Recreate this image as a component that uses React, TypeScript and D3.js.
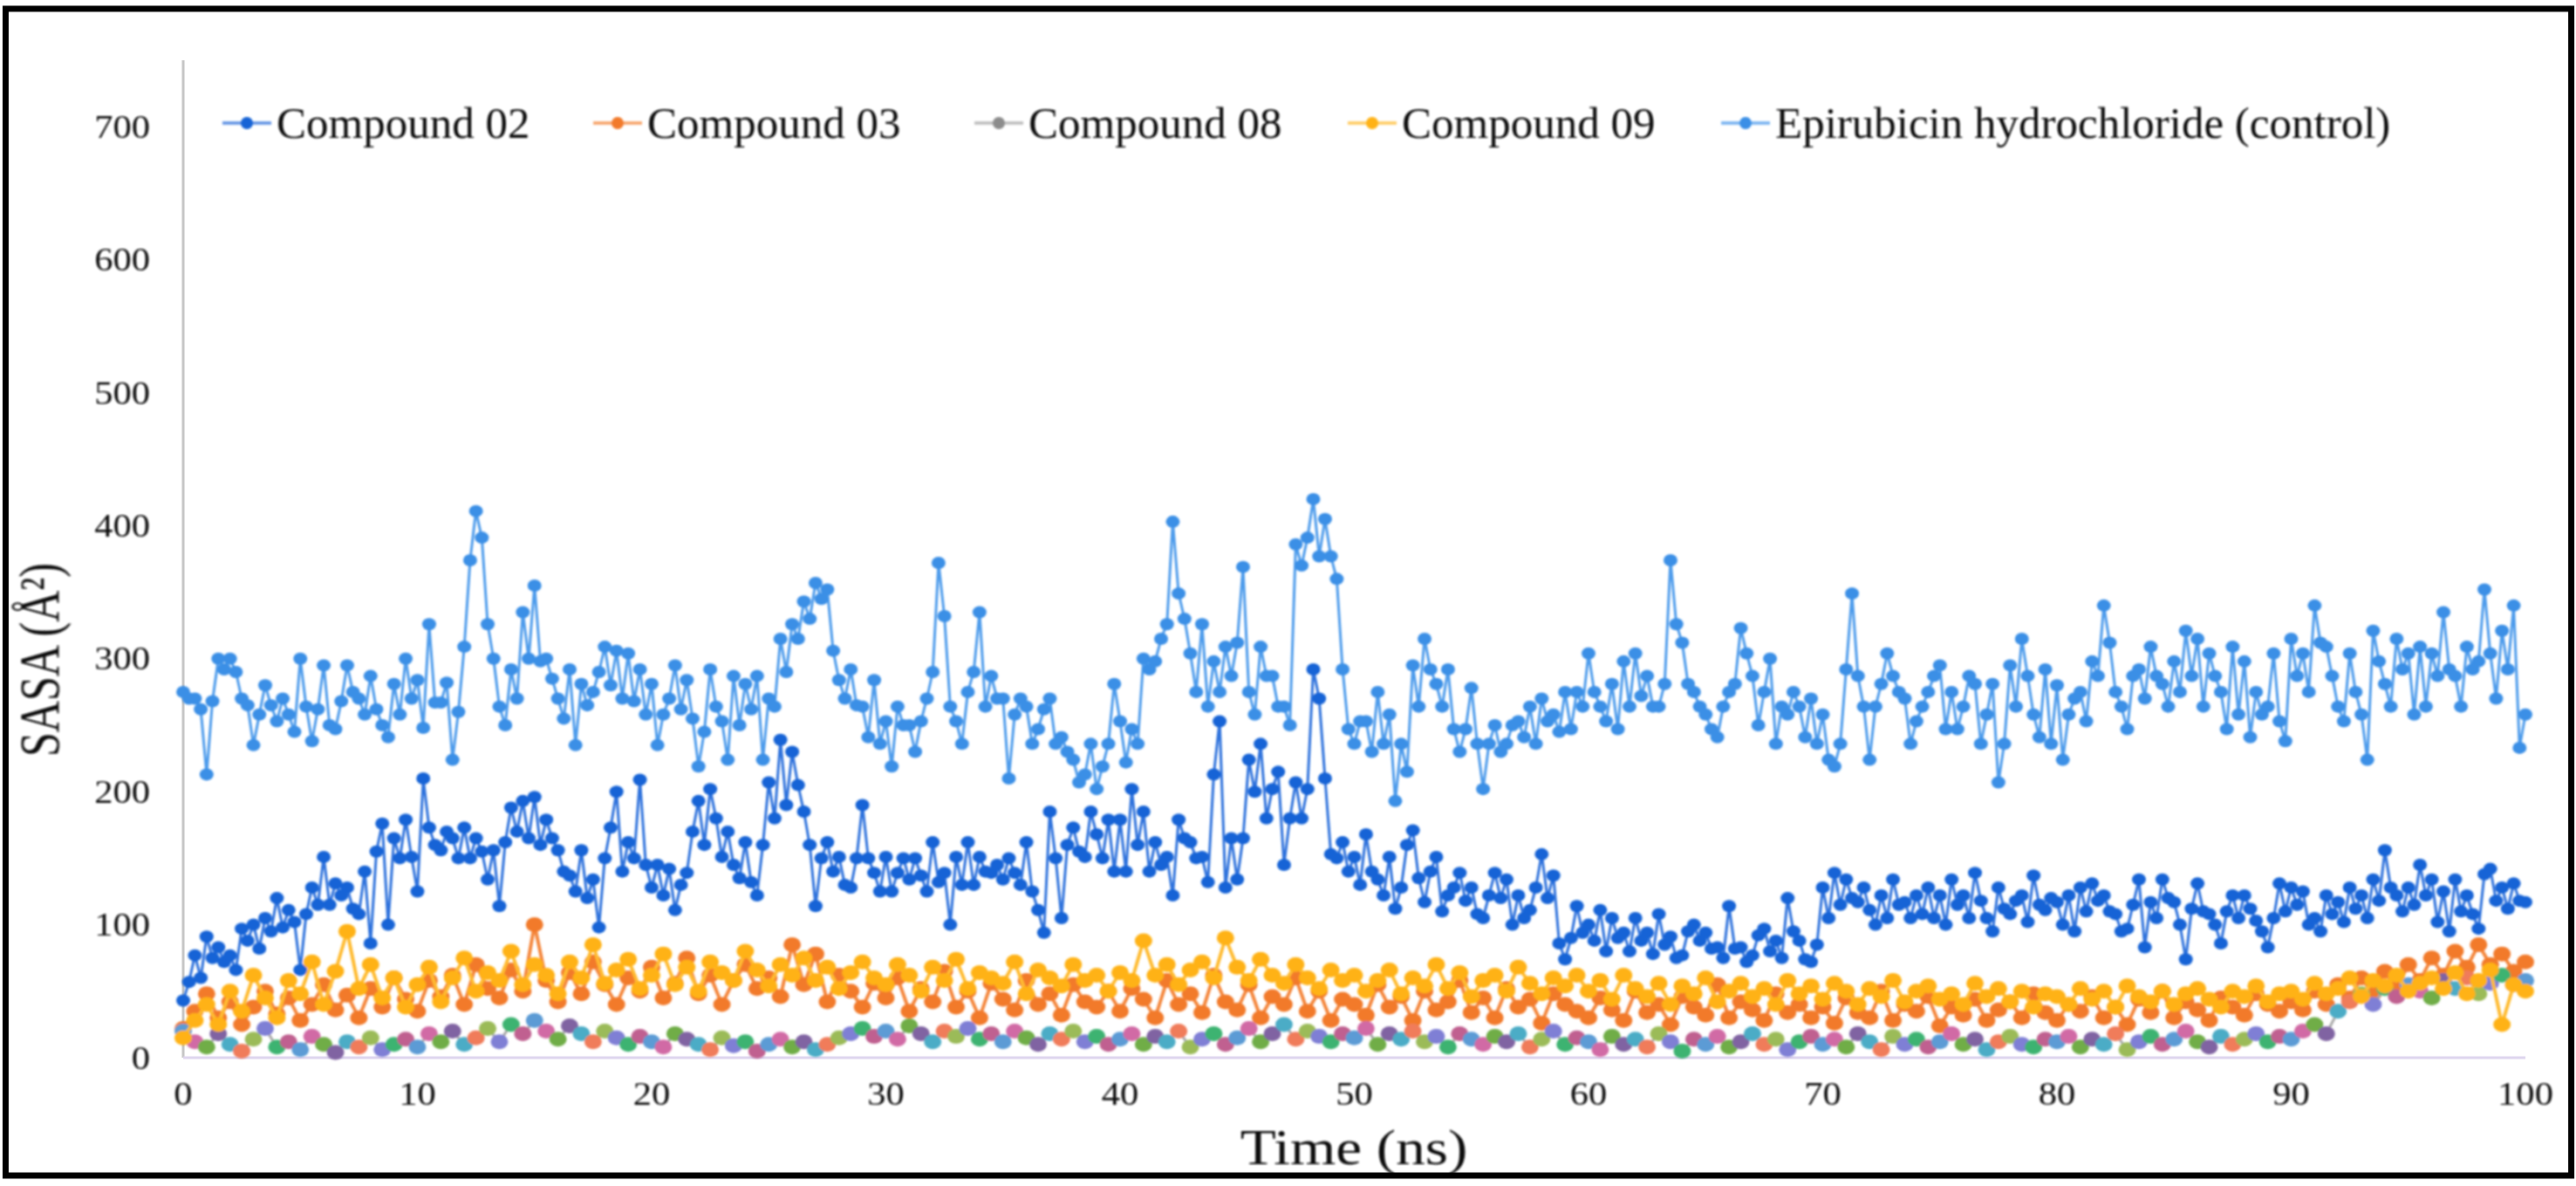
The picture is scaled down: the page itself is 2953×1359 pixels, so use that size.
import React, { useEffect } from 'react';
import * as d3 from 'd3';

// SASA (Å²), 0 → 100 ns, one value every 0.25 ns
const epirubicin = [
  275, 270, 270, 262, 213, 268, 300, 292, 300, 290, 270, 265, 235, 258, 280, 265, 253, 270, 258, 245, 300, 264, 238, 262, 295, 250, 247, 268, 295, 275, 270, 258, 287, 262, 250, 241, 281, 258, 300, 270,
  284, 248, 326, 267, 267, 282, 224, 260, 309, 374, 411, 391, 326, 300, 264, 250, 292, 270, 335, 300, 355, 298, 300, 285, 270, 255, 292, 235, 281, 265, 275, 290, 309, 280, 306, 270, 304, 268, 292, 258,
  281, 235, 258, 270, 295, 262, 284, 255, 219, 245, 292, 264, 253, 224, 287, 250, 281, 262, 287, 224, 270, 264, 315, 290, 326, 315, 343, 330, 357, 345, 352, 306, 284, 270, 292, 265, 264, 241, 284, 236,
  253, 219, 264, 250, 250, 230, 253, 270, 290, 372, 332, 264, 253, 236, 275, 290, 335, 264, 287, 270, 270, 210, 258, 270, 264, 236, 247, 262, 270, 236, 241, 230, 224, 207, 213, 236, 202, 219, 236, 281,
  253, 222, 247, 236, 300, 292, 298, 315, 326, 403, 349, 330, 304, 275, 326, 264, 298, 275, 309, 287, 312, 369, 275, 258, 309, 287, 287, 264, 264, 250, 386, 370, 391, 420, 377, 405, 377, 360, 292, 247,
  236, 253, 253, 230, 275, 236, 258, 193, 236, 215, 295, 264, 315, 292, 281, 264, 292, 247, 230, 247, 278, 236, 202, 236, 250, 230, 236, 250, 253, 241, 264, 236, 270, 253, 258, 245, 275, 247, 275, 264,
  304, 275, 264, 253, 281, 247, 298, 264, 304, 272, 287, 264, 264, 281, 374, 326, 312, 281, 275, 264, 258, 247, 241, 264, 275, 281, 323, 304, 287, 250, 275, 300, 236, 264, 258, 275, 264, 241, 270, 236,
  258, 224, 219, 236, 292, 349, 287, 264, 224, 264, 281, 304, 287, 275, 270, 236, 253, 264, 275, 287, 295, 247, 275, 247, 264, 287, 281, 236, 258, 281, 207, 236, 295, 264, 315, 287, 258, 241, 292, 236,
  280, 224, 258, 270, 275, 253, 298, 287, 340, 312, 275, 264, 247, 287, 292, 270, 309, 287, 281, 264, 298, 275, 321, 287, 315, 264, 304, 287, 275, 247, 309, 258, 298, 241, 275, 258, 264, 304, 253, 238,
  315, 287, 304, 275, 340, 312, 309, 287, 264, 253, 304, 275, 258, 224, 321, 298, 281, 264, 315, 292, 304, 258, 309, 264, 304, 287, 335, 292, 287, 264, 309, 292, 298, 352, 304, 270, 321, 292, 340, 233,
  258,
];

const compound02 = [
  43, 57, 77, 60, 91, 75, 83, 72, 77, 66, 97, 88, 100, 82, 105, 95, 120, 98, 111, 102, 66, 108, 128, 115, 151, 115, 131, 122, 128, 112, 108, 140, 86, 155, 176, 100, 165, 150, 179, 151,
  125, 210, 173, 160, 156, 170, 165, 150, 173, 150, 165, 155, 134, 156, 114, 162, 188, 170, 193, 165, 196, 160, 179, 165, 156, 140, 137, 125, 156, 120, 134, 98, 150, 173, 200, 140, 162, 150, 209, 145,
  128, 145, 122, 142, 111, 130, 139, 170, 193, 160, 202, 180, 151, 170, 145, 135, 162, 132, 122, 160, 207, 180, 239, 190, 230, 205, 185, 160, 114, 150, 162, 140, 151, 130, 128, 150, 190, 150, 139, 125,
  151, 125, 139, 150, 134, 150, 137, 125, 162, 132, 139, 100, 151, 130, 162, 130, 151, 140, 139, 145, 134, 150, 139, 130, 162, 125, 111, 94, 185, 150, 105, 160, 173, 155, 151, 185, 168, 150, 179, 140,
  179, 140, 202, 160, 185, 140, 162, 145, 151, 122, 179, 165, 162, 150, 151, 132, 213, 253, 128, 165, 134, 165, 224, 200, 236, 180, 202, 215, 145, 180, 207, 180, 202, 292, 270, 210, 153, 150, 162, 140,
  151, 130, 168, 140, 134, 122, 151, 112, 128, 160, 171, 135, 117, 140, 151, 110, 122, 128, 139, 118, 128, 108, 105, 122, 139, 120, 134, 100, 122, 105, 111, 128, 153, 120, 137, 86, 74, 90, 114, 94,
  100, 88, 111, 80, 105, 90, 94, 80, 105, 88, 94, 78, 108, 85, 91, 75, 77, 95, 100, 88, 94, 82, 83, 75, 114, 82, 83, 72, 77, 92, 97, 80, 88, 75, 120, 95, 88, 74, 72, 85,
  128, 105, 139, 115, 134, 120, 117, 128, 111, 100, 122, 105, 134, 115, 117, 105, 122, 108, 128, 105, 122, 100, 134, 115, 122, 105, 139, 118, 105, 95, 128, 112, 108, 118, 122, 102, 137, 115, 111, 120,
  117, 100, 122, 95, 128, 110, 131, 118, 122, 110, 108, 95, 97, 115, 134, 83, 117, 105, 134, 120, 117, 100, 74, 112, 131, 110, 108, 100, 86, 110, 122, 105, 122, 112, 103, 95, 83, 105, 131, 110,
  128, 115, 125, 100, 105, 95, 122, 108, 117, 102, 128, 112, 122, 105, 134, 118, 156, 128, 122, 110, 128, 115, 145, 122, 134, 102, 125, 95, 134, 110, 122, 108, 97, 138, 142, 118, 128, 112, 131, 118,
  117,
];

// one value every 0.5 ns
const compound03 = [
  22, 35, 48, 30, 42, 25, 38, 50, 33, 45, 28, 40, 55, 36, 47, 30, 52, 38, 60, 44,
  35, 58, 46, 62, 40, 70, 52, 45, 66, 50, 100, 58, 42, 64, 48, 72, 55, 40, 60, 50,
  68, 45, 56, 75, 48, 62, 40, 58, 70, 52, 60, 46, 85, 55, 78, 42, 62, 50, 38, 56,
  45, 60, 35, 52, 42, 65, 38, 50, 30, 56, 44, 36, 58, 40, 48, 32, 55, 42, 38, 50,
  35, 52, 44, 30, 58, 40, 48, 34, 62, 42, 36, 55, 30, 46, 40, 60, 35, 50, 28, 44,
  40, 32, 55, 38, 46, 28, 50, 36, 42, 58, 34, 45, 30, 52, 38, 44, 26, 48, 40, 35,
  30, 45, 36, 28, 50, 34, 40, 25, 46, 38, 32, 55, 30, 42, 36, 28, 48, 34, 40, 30,
  38, 26, 45, 34, 30, 50, 28, 40, 35, 46, 24, 38, 32, 44, 28, 36, 42, 30, 48, 34,
  28, 40, 35, 46, 30, 38, 25, 44, 34, 50, 30, 42, 36, 28, 45, 38, 32, 48, 40, 35,
  42, 36, 50, 40, 55, 45, 60, 48, 65, 52, 70, 58, 75, 62, 80, 68, 85, 70, 78, 65,
  72,
];

const compound08 = [
  20, 12, 8, 18, 10, 5, 14, 22, 8, 12, 6, 16, 10, 4, 12, 8, 15, 6, 10, 14,
  8, 18, 12, 20, 10, 15, 22, 12, 25, 18, 28, 20, 14, 24, 18, 12, 20, 15, 10, 16,
  12, 8, 18, 14, 10, 6, 15, 9, 12, 5, 10, 14, 8, 12, 6, 10, 15, 18, 22, 16,
  20, 14, 24, 18, 12, 20, 16, 22, 14, 18, 12, 20, 15, 10, 18, 14, 20, 12, 16, 10,
  14, 18, 10, 16, 12, 20, 8, 14, 18, 10, 15, 22, 12, 18, 25, 14, 20, 16, 12, 18,
  15, 22, 10, 18, 14, 20, 12, 16, 8, 18, 14, 10, 16, 12, 18, 8, 14, 20, 10, 15,
  12, 6, 16, 10, 14, 8, 18, 12, 5, 14, 10, 16, 8, 12, 18, 10, 14, 6, 12, 16,
  10, 14, 8, 18, 12, 6, 16, 10, 14, 8, 12, 18, 10, 14, 6, 12, 16, 10, 8, 14,
  12, 16, 8, 14, 10, 18, 6, 12, 16, 10, 14, 20, 12, 8, 16, 10, 14, 18, 12, 16,
  14, 20, 25, 18, 35, 42, 48, 40, 52, 46, 55, 50, 45, 58, 52, 60, 48, 56, 62, 55,
  58,
];

const compound09 = [
  15, 28, 40, 25, 50, 35, 62, 45, 30, 58, 48, 72, 40, 65, 95, 52, 70, 45, 60, 38,
  55, 68, 42, 60, 75, 50, 64, 58, 80, 55, 70, 62, 48, 72, 60, 85, 56, 66, 74, 52,
  62, 78, 55, 68, 50, 72, 64, 58, 80, 66, 54, 70, 62, 75, 58, 68, 52, 64, 72, 60,
  55, 70, 62, 50, 68, 58, 74, 52, 64, 60, 56, 72, 48, 66, 60, 54, 70, 58, 62, 50,
  64, 58, 88, 62, 70, 55, 66, 72, 60, 90, 68, 58, 74, 62, 56, 70, 60, 52, 66, 58,
  62, 50, 58, 66, 48, 60, 54, 70, 52, 64, 46, 58, 62, 50, 68, 56, 48, 60, 54, 62,
  50, 58, 44, 62, 52, 46, 56, 40, 54, 48, 60, 42, 50, 56, 46, 52, 40, 58, 48, 54,
  44, 56, 50, 40, 52, 46, 58, 42, 50, 54, 44, 48, 40, 56, 46, 52, 42, 50, 38, 48,
  46, 40, 52, 44, 50, 38, 54, 46, 42, 50, 40, 48, 52, 44, 38, 50, 46, 54, 42, 48,
  50, 44, 56, 48, 52, 60, 46, 58, 54, 62, 50, 56, 60, 52, 64, 48, 58, 66, 25, 55,
  50,
];

const seriesNames = ['Compound 02', 'Compound 03', 'Compound 08', 'Compound 09', 'Epirubicin hydrochloride (control)'];
const seriesValues = [compound02, compound03, compound08, compound09, epirubicin];
const markerColors = ['#1763d6', '#f27a2c', '#8c8c8c', '#ffb213', '#3b8fe6'];
const lineColors = ['#2f72dc', '#f4873e', '#a8a8a8', '#ffbb30', '#4d9beb'];
// Compound 08 has "vary colours by point" switched on
const pointPalette = ['#5b9bd5', '#d16ba5', '#70ad47', '#8064a2', '#4bacc6', '#f07c5a', '#9bbb59', '#7f7fd5', '#3cb371', '#c06090'];

const yTicks = [0, 100, 200, 300, 400, 500, 600, 700];
const xTicks = [0, 10, 20, 30, 40, 50, 60, 70, 80, 90, 100];

const FONT = "'Liberation Serif', 'Times New Roman', serif";

export default function App() {
  useEffect(() => {
    document.body.style.margin = '0';
  }, []);

  const W = 2953;
  const H = 1359;
  const x = d3.scaleLinear().domain([0, 100]).range([210, 2895]);
  const y = d3.scaleLinear().domain([0, 750]).range([1212, 69]);

  const toPoints = (vals: number[]) =>
    vals.map((v, i) => [(i * 100) / (vals.length - 1), v] as [number, number]);
  const line = d3.line<[number, number]>().x(d => x(d[0])).y(d => y(d[1]));

  const legendX = [255, 680, 1117, 1545, 1973];
  const legendY = 141;

  // the sparse 0.5 ns series get fatter marks so they read as the solid bands of the figure
  const markerRx = [8, 10, 10, 10, 8];
  const markerRy = [7, 8.5, 8.5, 8.5, 7];
  const lineWidth = [3, 4, 3, 4, 3];

  return (
    <svg width={W} height={H} style={{ display: 'block', background: '#fff' }} fontFamily={FONT}>
      <defs>
        <filter id="soft" x="-5%" y="-5%" width="110%" height="110%">
          <feGaussianBlur stdDeviation="0.9" />
        </filter>
      </defs>
      <rect x={0} y={0} width={W} height={H} fill="#fff" />

      {/* axes */}
      <line x1={x(0)} x2={x(0)} y1={y(0)} y2={y(750)} stroke="#c4c4c4" strokeWidth={3} />
      <line x1={x(0)} x2={x(100)} y1={y(0)} y2={y(0)} stroke="#ddd4ee" strokeWidth={3} />

      <g fill="#111" filter="url(#soft)">
        {yTicks.map(t => (
          <text key={'y' + t} transform={`translate(172,${y(t)}) scale(1.15,1)`} textAnchor="end"
            dominantBaseline="central" fontSize={37}>{t}</text>
        ))}
        {xTicks.map(t => (
          <text key={'x' + t} transform={`translate(${x(t)},1253) scale(1.15,1)`} textAnchor="middle"
            dominantBaseline="central" fontSize={37}>{t}</text>
        ))}

        <text transform="translate(1552,1315) scale(1.2,1)" textAnchor="middle" dominantBaseline="central"
          fontSize={56}>Time (ns)</text>
        <text transform="translate(46,756) rotate(-90) scale(1,1.3)" textAnchor="middle" dominantBaseline="central"
          fontSize={50}>SASA (Å²)</text>
      </g>

      {/* series, drawn in workbook order */}
      <g filter="url(#soft)">
        {seriesValues.map((vals, si) => {
          const pts = toPoints(vals);
          return (
            <g key={seriesNames[si]}>
              <path d={line(pts) ?? ''} fill="none" stroke={lineColors[si]} strokeWidth={lineWidth[si]} />
              {pts.map((p, i) => (
                <ellipse key={i} cx={x(p[0])} cy={y(p[1])} rx={markerRx[si]} ry={markerRy[si]}
                  fill={si === 2 ? pointPalette[i % pointPalette.length] : markerColors[si]} />
              ))}
            </g>
          );
        })}
      </g>

      {/* legend */}
      <g filter="url(#soft)">
        {seriesNames.map((name, i) => (
          <g key={'lg' + name}>
            <line x1={legendX[i]} x2={legendX[i] + 56} y1={legendY} y2={legendY} stroke={lineColors[i]} strokeWidth={4} opacity={0.7} />
            <circle cx={legendX[i] + 28} cy={legendY} r={7} fill={markerColors[i]} />
            <text x={legendX[i] + 62} y={legendY} dominantBaseline="central" fontSize={51} fill="#111">{name}</text>
          </g>
        ))}
      </g>

      {/* picture frame */}
      <rect x={6.5} y={10} width={2941} height={1337} fill="none" stroke="#000" strokeWidth={7} />
    </svg>
  );
}
